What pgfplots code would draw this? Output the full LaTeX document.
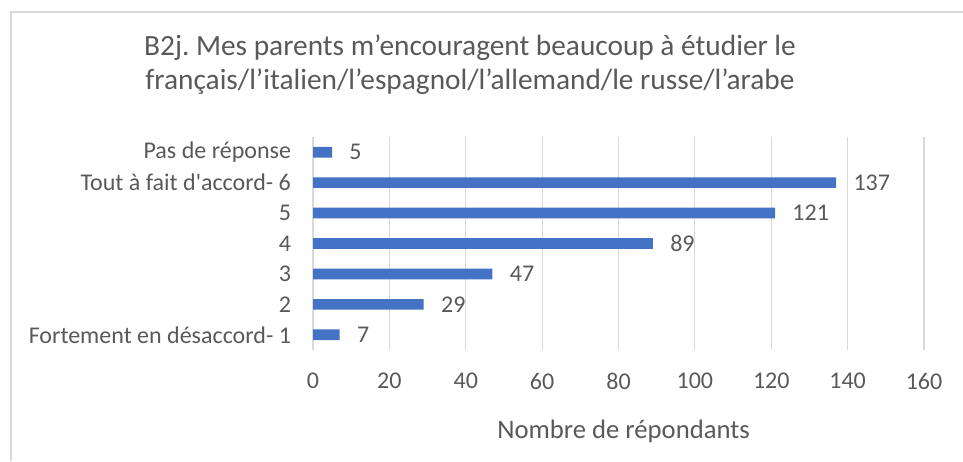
\documentclass[border=0pt]{standalone}
\usepackage{pgfplots}
\pgfplotsset{compat=1.18}
\usepackage{fontspec}
\setmainfont{Carlito}
\frenchspacing
\definecolor{barblue}{HTML}{4472C4}
\definecolor{txtgray}{HTML}{595959}
\definecolor{gridgray}{HTML}{D9D9D9}
\begin{document}
\begin{tikzpicture}
\useasboundingbox (0,0) rectangle (722.25pt,345.75pt);
\draw[gridgray, line width=1.5pt] (8.25pt,0pt) -- (8.25pt,337pt) -- (722.25pt,337pt);
\node[txtgray, font=\fontsize{22pt}{25.5pt}\selectfont, align=center] at (352.5pt,297pt)
  {B2j. Mes parents m’encouragent beaucoup à étudier le\\français/l’italien/l’espagnol/l’allemand/le russe/l’arabe};
\begin{axis}[
  at={(234.75pt,83.25pt)}, anchor=south west,
  scale only axis, width=458.25pt, height=159.75pt,
  xbar, bar width=8pt,
  xmin=0, xmax=160, ymin=-0.5, ymax=6.5,
  xtick={0,20,...,160},
  ytick={0,1,2,3,4,5,6},
  yticklabels={Fortement en désaccord- 1,2,3,4,5,Tout à fait d\textquotesingle accord- 6,Pas de réponse},
  xmajorgrids, grid style={draw=gridgray, line width=0.9pt},
  ymajorgrids=false,
  axis x line*=bottom, x axis line style={draw=none},
  axis y line*=left, y axis line style={draw=gridgray, line width=0.9pt, -},
  major tick length=0pt,
  ticklabel style={text=txtgray, font=\fontsize{18pt}{21pt}\selectfont},
  /pgf/number format/assume math mode=true,
  xticklabel style={yshift=-14pt},
  yticklabel style={xshift=-13pt},
  xlabel={\fontsize{20pt}{24pt}\selectfont Nombre de répondants},
  xlabel style={text=txtgray, yshift=-16pt, xshift=3.75pt},
  clip=false,
]
\addplot[fill=barblue, draw=none,
  nodes near coords,
  nodes near coords style={text=txtgray, font=\fontsize{18pt}{21pt}\selectfont, anchor=west, xshift=9.5pt}]
  coordinates {(7,0) (29,1) (47,2) (89,3) (121,4) (137,5) (5,6)};
\end{axis}
\end{tikzpicture}
\end{document}
